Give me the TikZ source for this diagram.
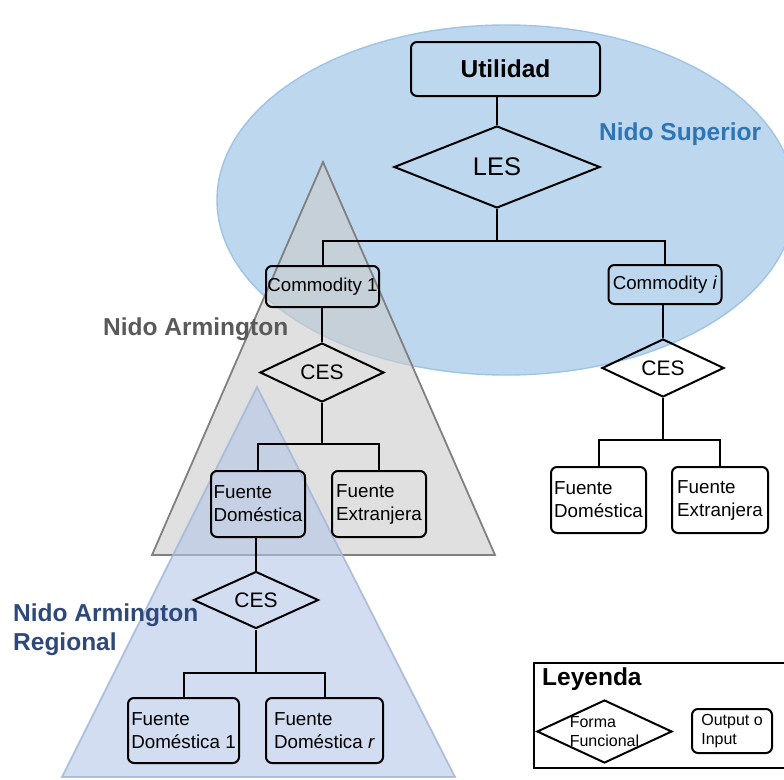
\documentclass[tikz,border=0pt]{standalone}
\usepackage{fontspec}
\setmainfont{Liberation Sans}
\usetikzlibrary{shapes.geometric}

\definecolor{nestblue}{RGB}{189,215,238}
\definecolor{nestblueedge}{RGB}{160,196,228}
\definecolor{armgray}{RGB}{205,205,205}
\definecolor{armgrayedge}{RGB}{128,128,128}
\definecolor{regblue}{RGB}{180,199,231}
\definecolor{regblueedge}{RGB}{165,183,214}
\definecolor{supertext}{RGB}{46,117,182}
\definecolor{armtext}{RGB}{89,89,89}
\definecolor{regtext}{RGB}{47,72,122}

\tikzset{
  io/.style={draw, rounded corners=6pt, line width=2pt, inner sep=1pt, align=left,
    font=\fontsize{18.8}{23}\selectfont},
  func/.style={draw, diamond, line width=2pt, inner sep=0pt, aspect=2,
    font=\fontsize{21}{24}\selectfont},
  link/.style={line width=2pt},
  nestlabel/.style={font=\fontsize{24.5}{29}\selectfont\bfseries, align=left, inner sep=0pt},
}

\begin{document}
\begin{tikzpicture}[x=1pt, y=-1pt]
\useasboundingbox (0,0) rectangle (784,779);
\clip (0,0) rectangle (784,779);

% nests
\draw[fill=nestblue, draw=nestblueedge, line width=1.4pt]
  (506,200) ellipse [x radius=289, y radius=175];
\draw[fill=armgray, fill opacity=0.62, draw=armgrayedge, line width=1.8pt, line join=miter]
  (323,162) -- (495,555) -- (152,555) -- cycle;
\draw[fill=regblue, fill opacity=0.6, draw=regblueedge, draw opacity=0.85, line width=1.8pt]
  (257,387) -- (455,777) -- (62,777) -- cycle;

% nest names
\node[nestlabel, text=supertext, anchor=base west] (supLbl) at (599,140) {Nido Superior};
\node[nestlabel, text=armtext, anchor=base west] (armLbl) at (103,335) {Nido Armington};
\node[nestlabel, text=regtext, anchor=north west] (regLbl) at (13,604) {Nido Armington\\Regional};

% top nest
\node[io, minimum width=189, minimum height=54, font=\fontsize{24.5}{28}\selectfont\bfseries]
  (util) at (505.5,69) {Utilidad};
\node[func, minimum width=206, minimum height=82, font=\fontsize{25.5}{28}\selectfont]
  (les) at (497,167) {LES};
\node[io, minimum width=113, minimum height=41, inner sep=0pt, font=\fontsize{18.7}{22}\selectfont]
  (com1) at (322.5,286.5) {Commodity 1};
\node[io, minimum width=113, minimum height=39, inner sep=0pt, font=\fontsize{18.7}{22}\selectfont]
  (comi) at (665,284.5) {Commodity \textit{i}};

% Armington nest of commodity 1
\node[func, minimum width=124, minimum height=59] (ces1) at (322,372.5) {CES};
\node[io, minimum width=94, minimum height=66] (fd1) at (258,504) {Fuente\\Doméstica};
\node[io, minimum width=94, minimum height=66] (fe1) at (379,504) {Fuente\\Extranjera};

% regional nest
\node[func, minimum width=125, minimum height=57] (ces2) at (256,600) {CES};
\node[io, minimum width=111, minimum height=65] (fdA) at (183.5,730.5) {Fuente\\Doméstica 1};
\node[io, minimum width=117, minimum height=65] (fdR) at (324.5,730.5) {Fuente\\Doméstica \textit{r}};

% Armington nest of commodity i
\node[func, minimum width=122, minimum height=58] (cesR) at (663,368) {CES};
\node[io, minimum width=95, minimum height=66] (fdRight) at (598.5,500) {Fuente\\Doméstica};
\node[io, minimum width=96, minimum height=66] (feRight) at (720,500) {Fuente\\Extranjera};

% connectors
\draw[link] (les.north) -- (les.north |- util.south);
\draw[link] (les.south) -- ++(0,32) -| (com1.north);
\draw[link] (les.south) -- ++(0,32) -| (comi.north);
\draw[link] (ces1.north) -- (ces1.north |- com1.south);
\draw[link] (ces1.south) -- ++(0,41) -| (fd1.north);
\draw[link] (ces1.south) -- ++(0,41) -| (fe1.north);
\draw[link] (ces2.north) -- (ces2.north |- fd1.south);
\draw[link] (ces2.south) -- ++(0,43) -| (fdA.north);
\draw[link] (ces2.south) -- ++(0,43) -| (fdR.north);
\draw[link] (cesR.north) -- (cesR.north |- comi.south);
\draw[link] (cesR.south) -- ++(0,42) -| (fdRight.north);
\draw[link] (cesR.south) -- ++(0,42) -| (feRight.north);

% legend
\node[draw, line width=2pt, minimum width=262, minimum height=105, anchor=north west,
  inner sep=0pt] (legend) at (533,662) {};
\node[nestlabel, anchor=base west] (legTitle) at (542,685) {Leyenda};
\node[draw, diamond, line width=2pt, inner sep=0pt, minimum width=135, minimum height=63]
  (legFunc) at (604.5,731.5) {};
\node[align=left, inner sep=0pt, font=\fontsize{16}{18.5}\selectfont]
  (legFuncText) at (legFunc.center) {Forma\\Funcional};
\node[io, minimum width=80, minimum height=44, font=\fontsize{16}{18.5}\selectfont]
  (legIO) at (732,731) {Output o\\Input};
\end{tikzpicture}
\end{document}
